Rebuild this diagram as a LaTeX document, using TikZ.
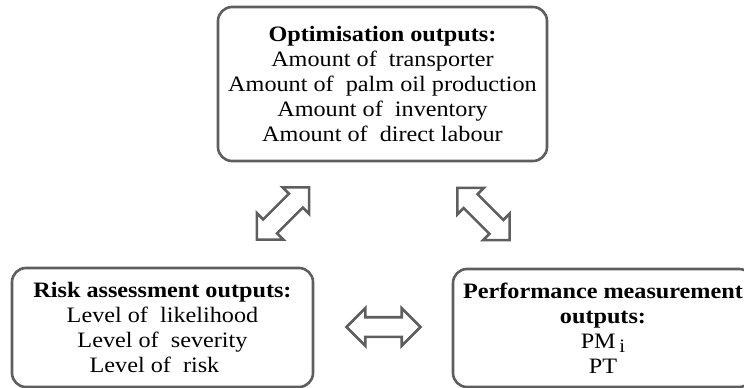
\documentclass[tikz,border=0pt]{standalone}
\usepackage{fontspec}
\setmainfont[FakeStretch=1.10]{Liberation Serif}
\usetikzlibrary{shapes.arrows}
\definecolor{edge}{HTML}{5E5E5E}
\tikzset{
  box/.style={draw=edge, line width=2.6pt, rounded corners=14pt, align=center,
    font=\fontsize{22}{25}\selectfont, inner sep=0pt},
  dbl/.style={double arrow, draw=edge, line width=2.6pt, double arrow head extend=9pt,
    double arrow head indent=0pt, inner xsep=0pt, inner ysep=8.5pt, minimum height=74pt}
}
\begin{document}
\begin{tikzpicture}[x=1pt,y=-1pt]
\useasboundingbox (0,0) rectangle (744,388);
\node[box, minimum width=329pt, minimum height=154pt] (opt) at (382.5,84)
  {\textbf{Optimisation outputs:}\\Amount of~ transporter\\Amount of~ palm oil production\\Amount of~ inventory\\Amount of~ direct labour};
\node[box, minimum width=301pt, minimum height=119pt] (risk) at (162.5,327.5)
  {\textbf{Risk assessment outputs:}\\Level of~ likelihood\hspace*{16pt}\\Level of~ severity\hspace*{16pt}\\Level of~ risk\hspace*{16pt}};
\node[box, minimum width=300pt, minimum height=118pt] (perf) at (603,328)
  {\textbf{Performance measurement}\\\textbf{outputs:}\\PM\,\raisebox{-4pt}{\fontsize{19}{19}\selectfont i}\\PT};
\node[dbl, rotate=45] (a1) at (283,213.5) {};
\node[dbl, rotate=-45] (a2) at (483.5,214) {};
\node[dbl] (a3) at (383.5,327) {};
\end{tikzpicture}
\end{document}
